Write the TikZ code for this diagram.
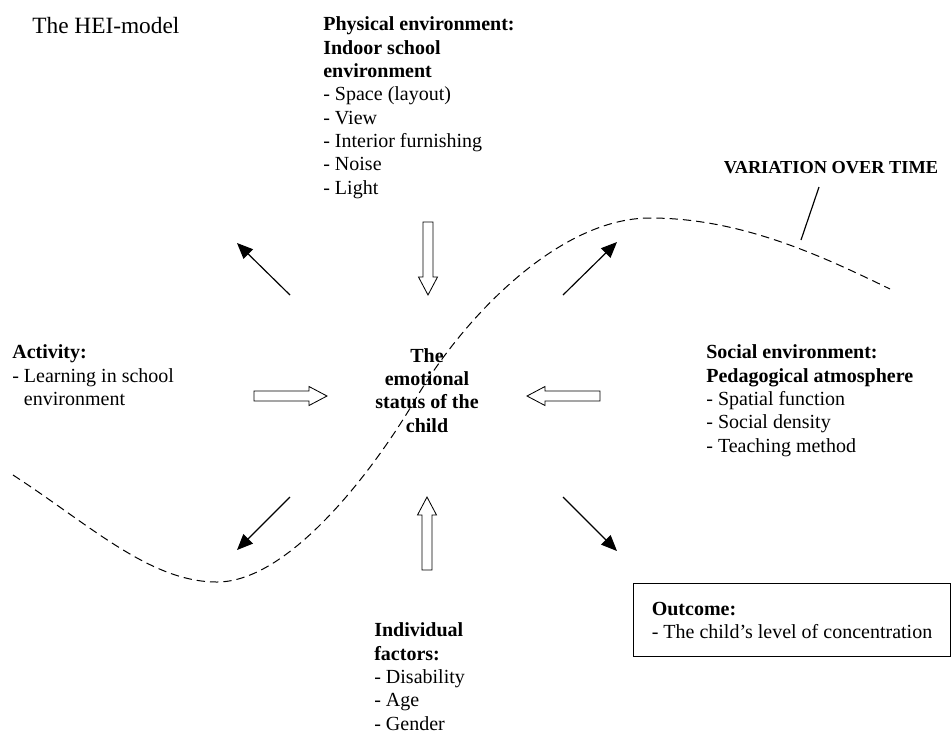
\documentclass[tikz,border=0pt]{standalone}
\usepackage{fontspec}
\setmainfont{Liberation Serif}
\usetikzlibrary{arrows.meta, positioning}

\begin{document}
\begin{tikzpicture}[
    x=0.6pt, y=-0.6pt,
    txt/.style={anchor=north west, inner sep=0pt, align=left,
                font=\fontsize{12}{14}\selectfont},
    hollow/.pic={\draw[line width=0.5pt] (0,-5) -- (55,-5) -- (55,-9.5) -- (73,0)
                 -- (55,9.5) -- (55,5) -- (0,5) -- cycle;},
    push/.style={-{Triangle[length=9.5pt,width=8pt]}, line width=0.7pt},
    wave/.style={dash pattern=on 5pt off 3pt, line width=0.6pt}
]
    \useasboundingbox (0,0) rectangle (952,731);

    % Title
    \node[txt, font=\fontsize{14}{16}\selectfont] (title) at (32,17) {The HEI-model};

    % Variation over time
    \draw[wave] (13,475) .. controls (90,525) and (150,582) .. (217,582)
        .. controls (290,582) and (375,468) .. (415,400)
        .. controls (465,315) and (560,218) .. (650,218)
        .. controls (740,218) and (820,255) .. (890,289);
    \node[inner sep=0pt, font=\fontsize{11}{13}\selectfont\bfseries] (variation) at (831,168) {VARIATION OVER TIME};
    \coordinate (vtop) at (819,187);
    \coordinate (vfoot) at (801,240);
    \draw[line width=0.7pt] (vtop) -- (vfoot);

    % The child in the middle
    \node[txt, anchor=north, align=center, font=\fontsize{12}{14}\selectfont\bfseries] (child) at (427,348)
        {The\\emotional\\status of the\\child};

    % Factors
    \node[txt] (physical) at (323,16.5) {\textbf{Physical environment:}\\\textbf{Indoor school}\\\textbf{environment}\\- Space (layout)\\- View\\- Interior furnishing\\- Noise\\- Light};
    \node[txt] (activity) at (12,344.5) {\textbf{Activity:}\\- Learning in school\\\hphantom{- }environment};
    \node[txt] (social) at (706,344.5) {\textbf{Social environment:}\\\textbf{Pedagogical atmosphere}\\- Spatial function\\- Social density\\- Teaching method};
    \node[txt] (individual) at (374,622.5) {\textbf{Individual}\\\textbf{factors:}\\- Disability\\- Age\\- Gender};

    % Outcome
    \node[txt, draw, line width=0.8pt, inner sep=0pt, minimum width=190pt,
          minimum height=43.8pt] (outcome) at (633,583) {\textbf{Outcome:}\\- The child’s level of concentration};

    % Influences towards the child
    \pic[rotate=-90] (fromphysical) at (428,222) {hollow};
    \pic[rotate=90] (fromindividual) at (427,570) {hollow};
    \pic (fromactivity) at (254,396) {hollow};
    \pic[rotate=180] (fromsocial) at (600,396) {hollow};

    % Arrows out of the child
    \coordinate (nwfoot) at (290,295);
    \coordinate (nwtip) at (237,243);
    \coordinate (nefoot) at (563,295);
    \coordinate (netip) at (617,242);
    \coordinate (swfoot) at (290,497);
    \coordinate (swtip) at (237,550);
    \coordinate (sefoot) at (563,497);
    \coordinate (setip) at (617,551);
    \draw[push] (nwfoot) -- (nwtip);
    \draw[push] (nefoot) -- (netip);
    \draw[push] (swfoot) -- (swtip);
    \draw[push] (sefoot) -- (setip);
\end{tikzpicture}
\end{document}
